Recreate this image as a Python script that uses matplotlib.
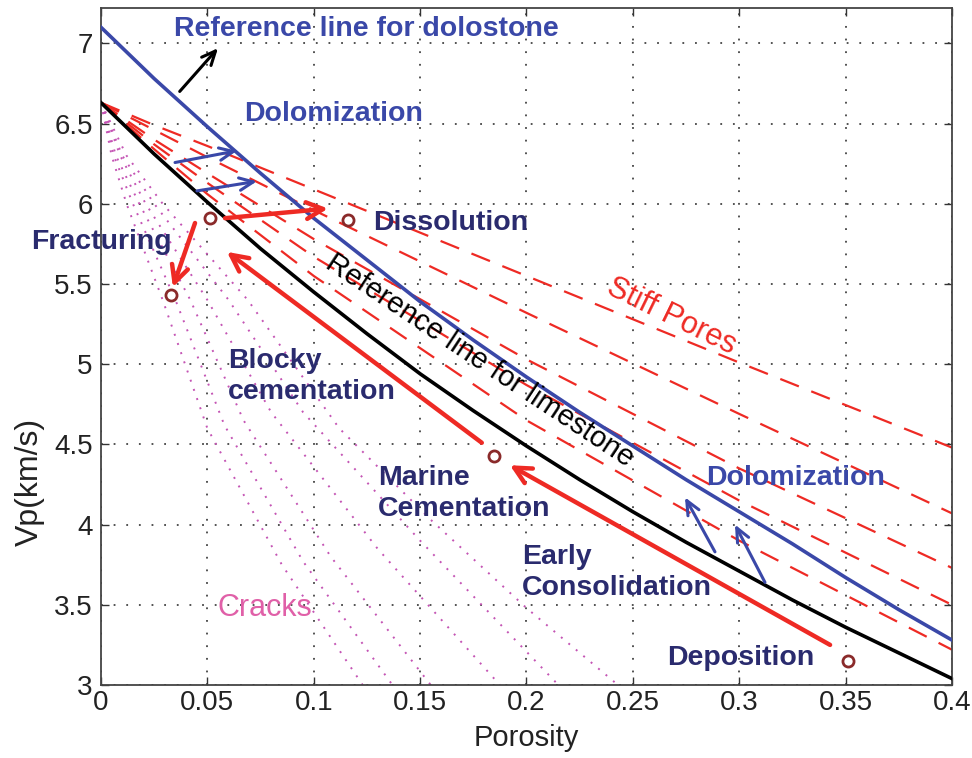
import numpy as np
import matplotlib
matplotlib.use('Agg')
import matplotlib.pyplot as plt

plt.rcParams['font.family'] = ['Liberation Sans', 'DejaVu Sans']

# reference lines (porosity, Vp km/s)
ref_phi = [0, 0.025, 0.05, 0.075, 0.1, 0.125, 0.15, 0.175, 0.2,
           0.225, 0.25, 0.275, 0.3, 0.325, 0.35, 0.375, 0.4]
lime_vp = [6.63, 6.31, 6.01, 5.72, 5.45, 5.19, 4.94, 4.71, 4.49,
           4.28, 4.08, 3.89, 3.71, 3.53, 3.36, 3.20, 3.04]
dolo_vp = [7.10, 6.78, 6.48, 6.19, 5.91, 5.65, 5.39, 5.15, 4.92,
           4.70, 4.49, 4.28, 4.08, 3.88, 3.67, 3.47, 3.28]

# stiff pore lines
stiff_phi = [0, 0.025, 0.05, 0.1, 0.2, 0.3, 0.4]
stiff_vp = [
    [6.63, 6.49, 6.36, 6.09, 5.55, 5.01, 4.48],
    [6.63, 6.46, 6.29, 5.96, 5.32, 4.69, 4.07],
    [6.63, 6.40, 6.19, 5.78, 5.03, 4.35, 3.73],
    [6.63, 6.37, 6.13, 5.67, 4.87, 4.15, 3.50],
    [6.63, 6.34, 6.06, 5.55, 4.65, 3.90, 3.22],
]

# crack lines
crack_phi = [
    [0, 0.005, 0.012, 0.029, 0.05, 0.085, 0.123],
    [0, 0.006, 0.015, 0.035, 0.058, 0.095, 0.137],
    [0, 0.007, 0.018, 0.042, 0.067, 0.108, 0.155],
    [0, 0.009, 0.021, 0.05, 0.08, 0.13, 0.1875],
    [0, 0.01, 0.025, 0.06, 0.095, 0.15, 0.215],
    [0, 0.012, 0.029, 0.069, 0.112, 0.155, 0.2, 0.243],
]
crack_vp = [
    [6.63, 6.3, 6.0, 5.4, 4.6, 3.75, 3.0],
    [6.63, 6.3, 6.0, 5.4, 4.62, 3.77, 3.0],
    [6.63, 6.3, 6.0, 5.4, 4.65, 3.8, 3.0],
    [6.63, 6.3, 6.0, 5.4, 4.7, 3.85, 3.0],
    [6.63, 6.3, 6.0, 5.4, 4.7, 3.9, 3.0],
    [6.63, 6.3, 6.0, 5.4, 4.6, 4.03, 3.48, 3.0],
]

# sample points
pt_phi = [0.0512, 0.116, 0.0329, 0.1847, 0.351]
pt_vp = [5.91, 5.90, 5.43, 4.43, 3.15]

# arrows: (start, end, colour)
arrows = [
    ((0.037, 6.70), (0.055, 6.97), 'k'),
    ((0.0348, 6.257), (0.0639, 6.33), 'b'),
    ((0.0451, 6.08), (0.0733, 6.14), 'b'),
    ((0.0583, 5.91), (0.1067, 5.97), 'r'),
    ((0.0442, 5.88), (0.0338, 5.48), 'r'),
    ((0.179, 4.51), (0.0592, 5.70), 'r'),
    ((0.3427, 3.25), (0.1922, 4.37), 'r'),
    ((0.2886, 3.83), (0.2745, 4.17), 'b'),
    ((0.3121, 3.64), (0.298, 4.00), 'b'),
]

xticks = [0, 0.05, 0.1, 0.15, 0.2, 0.25, 0.3, 0.35, 0.4]
xticklabels = ['0', '0.05', '0.1', '0.15', '0.2', '0.25', '0.3', '0.35', '0.4']
yticks = [3, 3.5, 4, 4.5, 5, 5.5, 6, 6.5, 7]
yticklabels = ['3', '3.5', '4', '4.5', '5', '5.5', '6', '6.5', '7']

RED = '#ee2a24'
BLUE = '#3a48a8'
NAVY = '#2a2b6e'
PINK = '#c454b4'
col = {'k': 'black', 'b': BLUE, 'r': RED}

fig = plt.figure(figsize=(9.72, 7.58), dpi=100)
ax = fig.add_axes([0.1039, 0.0963, 0.8755, 0.8931])

for ph, vp in zip(crack_phi, crack_vp):
    ax.plot(ph, vp, color=PINK, lw=1.4, linestyle=(0, (1, 4)), zorder=2)
for vp in stiff_vp:
    ax.plot(stiff_phi, vp, color=RED, lw=1.6, linestyle=(0, (9, 6)), zorder=2)

ax.plot(ref_phi, lime_vp, color='black', lw=2.6, zorder=3)
ax.plot(ref_phi, dolo_vp, color=BLUE, lw=2.6, zorder=3)

for (x0, y0), (x1, y1), c in arrows:
    if c == 'r':
        lw, hs = 3.2, 'head_length=1.2,head_width=0.6'
    else:
        lw, hs = 2.2, 'head_length=1.0,head_width=0.45'
    ax.annotate('', xy=(x1, y1), xytext=(x0, y0),
                arrowprops=dict(arrowstyle='->,' + hs,
                                color=col[c], lw=lw, shrinkA=0, shrinkB=0),
                zorder=4)

ax.plot(pt_phi, pt_vp, 'o', ms=8, mfc='white', mec='#8a2a2a', mew=2, zorder=5)

bold = dict(fontsize=20.5, fontweight='bold')
ax.text(0.1246, 7.09, 'Reference line for dolostone', color=BLUE, ha='center', va='center', **bold)
ax.text(0.1095, 6.56, 'Dolomization', color=BLUE, ha='center', va='center', **bold)
ax.text(0.3267, 4.29, 'Dolomization', color=BLUE, ha='center', va='center', **bold)
ax.text(0.0, 5.76, 'Fracturing', color=NAVY, ha='center', va='center', clip_on=False, **bold)
ax.text(0.1645, 5.88, 'Dissolution', color=NAVY, ha='center', va='center', **bold)
ax.text(0.0597, 4.92, 'Blocky\ncementation', color=NAVY, ha='left', va='center',
        linespacing=1.25, **bold)
ax.text(0.1303, 4.195, 'Marine\nCementation', color=NAVY, ha='left', va='center',
        linespacing=1.25, **bold)
ax.text(0.198, 3.70, 'Early\nConsolidation', color=NAVY, ha='left', va='center',
        linespacing=1.25, **bold)
ax.text(0.3008, 3.17, 'Deposition', color=NAVY, ha='center', va='center', **bold)
ax.text(0.268, 5.30, 'Stiff Pores', color=RED, fontsize=22, rotation=-26,
        ha='center', va='center', rotation_mode='anchor')
ax.text(0.178, 5.02, 'Reference line for limestone', color='black', fontsize=21,
        rotation=-33.5, ha='center', va='center', rotation_mode='anchor')
ax.text(0.077, 3.48, 'Cracks', color='#e060a8', fontsize=22, ha='center', va='center')

ax.set_xlim(0, 0.4)
ax.set_ylim(3, 7.22)
ax.set_xticks(xticks)
ax.set_xticklabels(xticklabels)
ax.set_yticks(yticks)
ax.set_yticklabels(yticklabels)
ax.tick_params(direction='in', length=6, width=1, labelsize=20, top=True, right=True,
               colors='#333333', labelcolor='#222222')
ax.tick_params(axis='y', pad=6)
ax.grid(True, color='#444444', lw=1.3, linestyle=(0, (1, 6)))
for s in ax.spines.values():
    s.set_color('#444444')
    s.set_linewidth(1.3)

ax.set_xlabel('Porosity', fontsize=21, color='#222222', labelpad=6)
ax.set_ylabel('Vp(km/s)', fontsize=23, color='#222222')
ax.yaxis.set_label_coords(-0.066, 0.30)

fig.savefig('out.png', dpi=100)
